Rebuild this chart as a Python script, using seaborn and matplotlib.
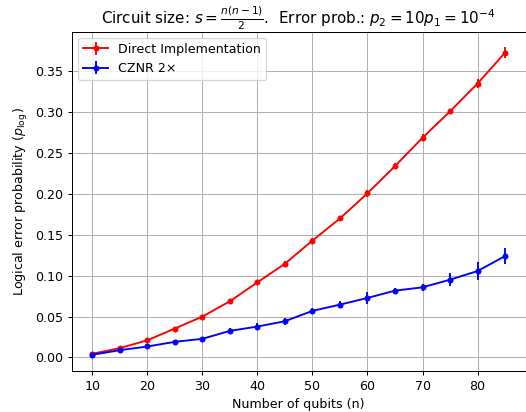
import matplotlib
matplotlib.use("Agg")
import matplotlib.pyplot as plt
import seaborn as sns

n_qubits = [10, 15, 20, 25, 30, 35, 40, 45, 50, 55, 60, 65, 70, 75, 80, 85]

direct_p = [0.0045, 0.0114, 0.021, 0.0354, 0.050, 0.0687, 0.0919, 0.1146,
            0.143, 0.170, 0.2008, 0.234, 0.2687, 0.301, 0.335, 0.3728]
direct_err = [0.001, 0.0015, 0.0015, 0.002, 0.002, 0.003, 0.003, 0.003,
              0.003, 0.003, 0.004, 0.004, 0.004, 0.0025, 0.006, 0.007]

cznr_p = [0.0033, 0.0089, 0.0134, 0.0191, 0.0228, 0.0325, 0.0378, 0.0443,
          0.057, 0.0646, 0.0728, 0.0817, 0.0858, 0.0951, 0.1057, 0.124]
cznr_err = [0.001, 0.0015, 0.0015, 0.002, 0.002, 0.003, 0.004, 0.004,
            0.004, 0.0047, 0.007, 0.0037, 0.0045, 0.008, 0.0105, 0.0095]

series = [
    ("Direct Implementation", direct_p, direct_err, "red"),
    ("CZNR 2\u00d7", cznr_p, cznr_err, "blue"),
]

# reference looks like a default mpl figure scaled down, so use a lower dpi
dpi = 91
fig = plt.figure(figsize=(526 / dpi, 412 / dpi), dpi=dpi)
ax = fig.add_axes([71.7 / 526, 41 / 412, 454 / 526, 339.5 / 412])

handles, labels = [], []
for label, vals, errs, color in series:
    sns.lineplot(x=n_qubits, y=vals, ax=ax, color=color, marker="o",
                 markersize=4, markeredgecolor=color, linewidth=1.5,
                 legend=False)
    line = ax.lines[-1]
    eb = ax.errorbar(n_qubits, vals, yerr=errs, fmt="none", ecolor=color,
                     elinewidth=1.5)
    handles.append((line, eb))
    labels.append(label)

ax.grid(True)
ax.set_xlabel("Number of qubits (n)")
ax.set_ylabel(r"Logical error probability ($p_{\log}$)")
ax.set_title(r"Circuit size: $s = \frac{n(n-1)}{2}$.  Error prob.: $p_2 = 10p_1 = 10^{-4}$")
ax.legend(handles, labels, loc="upper left")

fig.savefig("out.png", dpi=dpi)
